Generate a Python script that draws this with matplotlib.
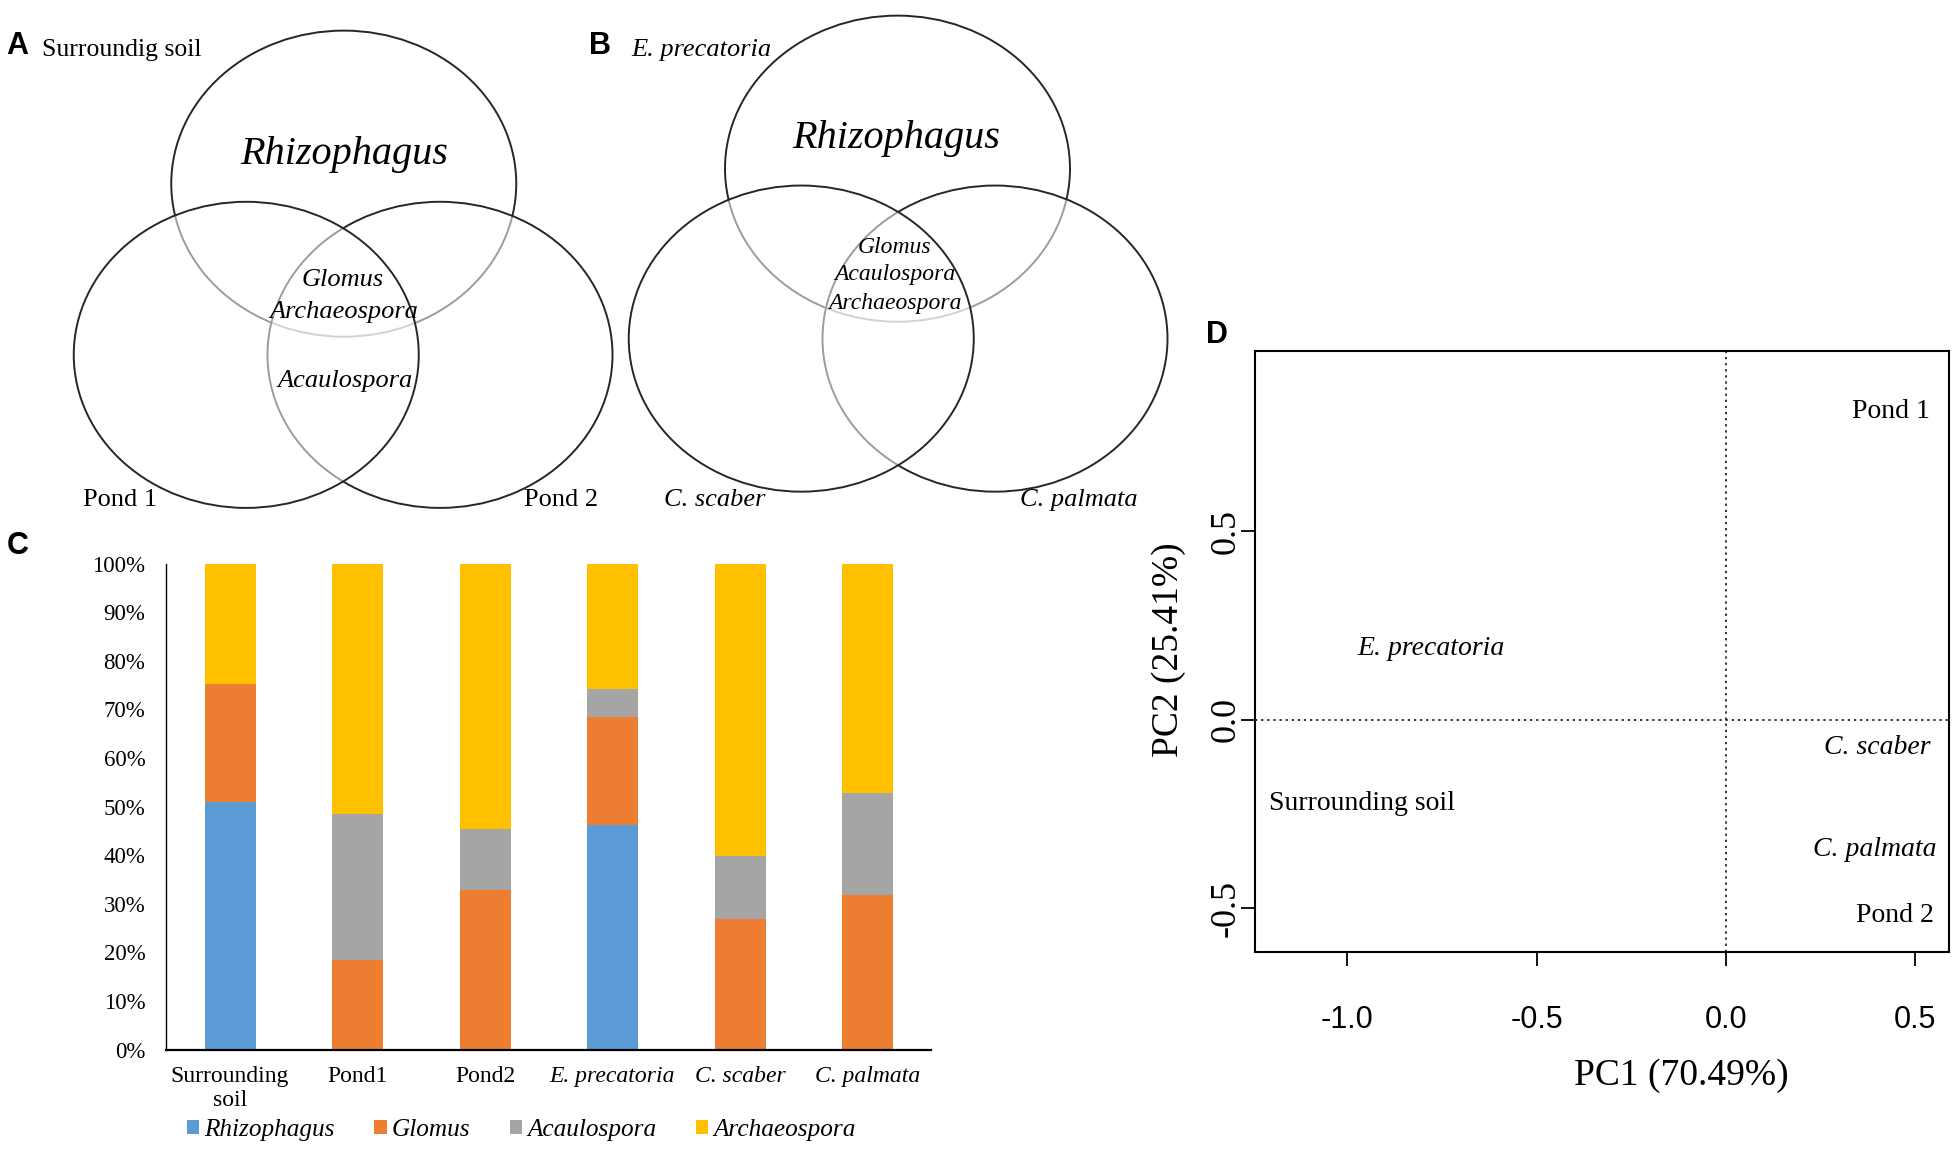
import matplotlib
matplotlib.use('Agg')
import matplotlib.pyplot as plt
from matplotlib.patches import Ellipse, Patch
import numpy as np

SERIF = 'Liberation Serif'
SANS = 'Liberation Sans'

# ---------------- Panel C data ----------------
samples = ['Surrounding\nsoil', 'Pond1', 'Pond2', 'E. precatoria', 'C. scaber', 'C. palmata']
sample_italic = [False, False, False, True, True, True]
genera = ['Rhizophagus', 'Glomus', 'Acaulospora', 'Archaeospora']
rhizophagus = [51.0, 0.0, 0.0, 46.1, 0.0, 0.0]
glomus = [24.3, 18.4, 32.8, 22.4, 26.9, 31.7]
acaulospora = [0.0, 30.1, 12.6, 5.6, 12.9, 21.0]
archaeospora = [24.7, 51.5, 54.6, 25.9, 60.2, 47.3]
genus_colors = ['#5B9BD5', '#ED7D31', '#A5A5A5', '#FFC000']
yticks_c = [0, 10, 20, 30, 40, 50, 60, 70, 80, 90, 100]
ytick_labels_c = ['0%', '10%', '20%', '30%', '40%', '50%', '60%', '70%', '80%', '90%', '100%']

# ---------------- Panel D data ----------------
pca_labels = ['Pond 1', 'E. precatoria', 'C. scaber', 'Surrounding soil', 'C. palmata', 'Pond 2']
pca_italic = [False, True, True, False, True, False]
pc1 = [0.436, -0.779, 0.399, -0.960, 0.393, 0.446]
pc2 = [0.818, 0.189, -0.073, -0.222, -0.344, -0.520]
xticks_d = [-1.0, -0.5, 0.0, 0.5]
yticks_d = [-0.5, 0.0, 0.5]

# ---------------- Venn texts ----------------
venn_a_sets = ['Surroundig soil', 'Pond 1', 'Pond 2']
venn_a_unique = 'Rhizophagus'
venn_a_all = ['Glomus', 'Archaeospora']
venn_a_ponds = 'Acaulospora'
venn_b_sets = ['E. precatoria', 'C. scaber', 'C. palmata']
venn_b_unique = 'Rhizophagus'
venn_b_all = ['Glomus', 'Acaulospora', 'Archaeospora']

fig = plt.figure(figsize=(19.6, 11.67), dpi=100)
W, H = 1568.0, 934.0

ov = fig.add_axes([0, 0, 1, 1])
ov.set_xlim(0, W)
ov.set_ylim(H, 0)
ov.axis('off')

def circles(ax, centers, rx, ry):
    for (cx, cy) in centers:
        ax.add_patch(Ellipse((cx, cy), 2 * rx, 2 * ry, facecolor=(1, 1, 1, 0.55),
                             edgecolor='#262626', lw=1.4))

# Panel A
circles(ov, [(275, 147), (352, 284), (197, 284)], 138, 122.5)
ov.text(5, 37, 'A', fontsize=22, fontweight='bold', family=SANS, va='center', ha='left')
ov.text(34, 40, venn_a_sets[0], fontsize=18.5, family=SERIF, va='center', ha='left')
ov.text(96, 400, venn_a_sets[1], fontsize=19, family=SERIF, va='center', ha='center')
ov.text(449, 400, venn_a_sets[2], fontsize=19, family=SERIF, va='center', ha='center')
ov.text(275, 124, venn_a_unique, fontsize=29, family=SERIF, style='italic', va='center', ha='center')
ov.text(274, 224, venn_a_all[0], fontsize=19, family=SERIF, style='italic', va='center', ha='center')
ov.text(275, 250, venn_a_all[1], fontsize=19, family=SERIF, style='italic', va='center', ha='center')
ov.text(276, 305, venn_a_ponds, fontsize=19, family=SERIF, style='italic', va='center', ha='center')

# Panel B
circles(ov, [(718, 135), (796, 271), (641, 271)], 138, 122.5)
ov.text(471, 37, 'B', fontsize=22, fontweight='bold', family=SANS, va='center', ha='left')
ov.text(505, 40, venn_b_sets[0], fontsize=19, family=SERIF, style='italic', va='center', ha='left')
ov.text(572, 400, venn_b_sets[1], fontsize=19, family=SERIF, style='italic', va='center', ha='center')
ov.text(863, 400, venn_b_sets[2], fontsize=19, family=SERIF, style='italic', va='center', ha='center')
ov.text(717, 111, venn_b_unique, fontsize=29, family=SERIF, style='italic', va='center', ha='center')
for txt, yy in zip(venn_b_all, [198, 220, 243]):
    ov.text(716, yy, txt, fontsize=17, family=SERIF, style='italic', va='center', ha='center')

ov.text(5, 437, 'C', fontsize=22, fontweight='bold', family=SANS, va='center', ha='left')
ov.text(965, 268, 'D', fontsize=22, fontweight='bold', family=SANS, va='center', ha='left')

# ---------------- Panel C ----------------
ax_c = fig.add_axes([133 / W, 1 - 840 / H, 612 / W, 389 / H])
x = np.arange(len(samples))
bottom = np.zeros(len(samples))
for name, vals, col in zip(genera, [rhizophagus, glomus, acaulospora, archaeospora], genus_colors):
    vals = np.array(vals)
    ax_c.bar(x, vals, width=0.4, bottom=bottom, color=col, label=name, linewidth=0)
    bottom += vals
ax_c.set_xlim(-0.5, 5.5)
ax_c.set_ylim(0, 100)
ax_c.set_yticks(yticks_c)
ax_c.set_yticklabels(ytick_labels_c, family=SERIF, fontsize=16.5)
ax_c.set_xticks(x)
ax_c.set_xticklabels(samples, family=SERIF, fontsize=17, linespacing=1.2)
for lbl, it in zip(ax_c.get_xticklabels(), sample_italic):
    if it:
        lbl.set_style('italic')
ax_c.tick_params(axis='both', length=0)
ax_c.tick_params(axis='y', pad=15)
ax_c.tick_params(axis='x', pad=12)
for s in ['top', 'right']:
    ax_c.spines[s].set_visible(False)
ax_c.spines['left'].set_linewidth(1.0)
ax_c.spines['bottom'].set_linewidth(1.6)
handles = [Patch(facecolor=c, edgecolor='none') for c in genus_colors]
ax_c.legend(handles, genera, loc='center', bbox_to_anchor=(0.464, -0.165), ncol=4,
            frameon=False, prop={'family': SERIF, 'style': 'italic', 'size': 18.2},
            handlelength=0.5, handleheight=0.5, handletextpad=0.2, columnspacing=1.55,
            borderaxespad=0)

# ---------------- Panel D ----------------
ax_d = fig.add_axes([1004 / W, 1 - 762 / H, 555 / W, 481 / H])
ax_d.set_xlim(-1.244, 0.589)
ax_d.set_ylim(-0.616, 0.977)
ax_d.axvline(0, ls=(0, (1.5, 2.5)), color='black', lw=1.1)
ax_d.axhline(0, ls=(0, (1.5, 2.5)), color='black', lw=1.1)
for lab, px, py, it in zip(pca_labels, pc1, pc2, pca_italic):
    ax_d.text(px, py, lab, fontsize=20, family=SERIF, style='italic' if it else 'normal',
              ha='center', va='center')
ax_d.set_xticks(xticks_d)
ax_d.set_xticklabels([f'{v:.1f}' for v in xticks_d], family=SANS, fontsize=22)
ax_d.set_yticks(yticks_d)
ax_d.set_yticklabels([f'{v:.1f}' for v in yticks_d], family=SERIF, fontsize=26,
                     rotation=90, va='center')
ax_d.tick_params(axis='both', direction='out', length=10, width=1.3)
ax_d.tick_params(axis='x', pad=28)
ax_d.tick_params(axis='y', pad=-1)
for s in ax_d.spines.values():
    s.set_linewidth(1.5)
ax_d.set_xlabel('PC1 (70.49%)', family=SERIF, fontsize=27, va='center')
ax_d.xaxis.set_label_coords(0.614, -0.206)
ax_d.set_ylabel('PC2 (25.41%)', family=SERIF, fontsize=27, va='center')
ax_d.yaxis.set_label_coords(-0.124, 0.503)

fig.savefig('out.png', dpi=100, facecolor='white')
